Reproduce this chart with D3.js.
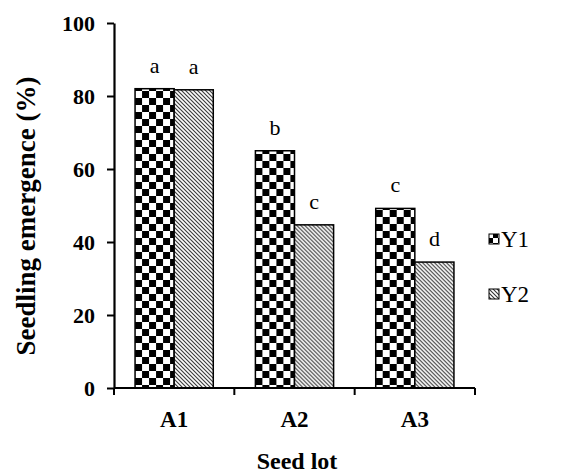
<!DOCTYPE html>
<html>
<head>
<meta charset="utf-8">
<script src="https://cdn.jsdelivr.net/npm/d3@7"></script>
<style>
  body { margin: 0; background: #fff; }
</style>
</head>
<body>
<svg id="chart" width="573" height="475"></svg>
<script>
"use strict";

var lots = ['A1', 'A2', 'A3'];
var years = ['Y1', 'Y2'];
var y1Values = [82.0, 65.0, 49.2];
var y2Values = [81.7, 44.7, 34.5];
var y1Letters = ['a', 'b', 'c'];
var y2Letters = ['a', 'c', 'd'];
var yTicks = [0, 20, 40, 60, 80, 100];

var FONT = "'Times New Roman', 'Liberation Serif', 'DejaVu Serif', serif";

function make_chart(svg) {
  var left = 114, right = 475, top = 23, bottom = 388;

  var defs = svg.append('defs');
  // checkerboard for Y1
  var chk = defs.append('pattern')
    .attr('id', 'checker')
    .attr('patternUnits', 'userSpaceOnUse')
    .attr('width', 14).attr('height', 14)
    .attr('x', 0).attr('y', 0);
  chk.append('rect').attr('width', 14).attr('height', 14).attr('fill', '#fff');
  chk.append('rect').attr('width', 7).attr('height', 7).attr('fill', '#000');
  chk.append('rect').attr('x', 7).attr('y', 7).attr('width', 7).attr('height', 7).attr('fill', '#000');

  var chkSmall = defs.append('pattern')
    .attr('id', 'checker-small')
    .attr('patternUnits', 'userSpaceOnUse')
    .attr('width', 10).attr('height', 10)
    .attr('x', 489).attr('y', 234);
  chkSmall.append('rect').attr('width', 10).attr('height', 10).attr('fill', '#fff');
  chkSmall.append('rect').attr('width', 5).attr('height', 5).attr('fill', '#000');
  chkSmall.append('rect').attr('x', 5).attr('y', 5).attr('width', 5).attr('height', 5).attr('fill', '#000');

  // diagonal hatch for Y2
  var hatch = defs.append('pattern')
    .attr('id', 'hatch')
    .attr('patternUnits', 'userSpaceOnUse')
    .attr('width', 4).attr('height', 4);
  hatch.append('rect').attr('width', 4).attr('height', 4).attr('fill', '#fff');
  hatch.append('path')
    .attr('d', 'M0,0 L4,4 M-1,3 L1,5 M3,-1 L5,1')
    .attr('stroke', '#333')
    .attr('stroke-width', 1.1);

  var x0 = d3.scaleBand().domain(lots).range([left, right]).paddingInner(0.35).paddingOuter(0.175);
  var x1 = d3.scaleBand().domain(years).range([0, x0.bandwidth()]);
  var y = d3.scaleLinear().domain([0, 100]).range([bottom, top]);

  var fills = { Y1: 'url(#checker)', Y2: 'url(#hatch)' };
  var rows = lots.map(function (lot, i) {
    return [
      { lot: lot, year: 'Y1', value: y1Values[i], letter: y1Letters[i] },
      { lot: lot, year: 'Y2', value: y2Values[i], letter: y2Letters[i] }
    ];
  });

  var groups = svg.selectAll('g.lot')
    .data(rows)
    .enter().append('g')
    .attr('class', 'lot')
    .attr('transform', function (d) { return 'translate(' + x0(d[0].lot) + ',0)'; });

  groups.selectAll('rect')
    .data(function (d) { return d; })
    .enter().append('rect')
    .attr('x', function (d) { return x1(d.year); })
    .attr('y', function (d) { return y(d.value); })
    .attr('width', x1.bandwidth())
    .attr('height', function (d) { return y(0) - y(d.value); })
    .attr('fill', function (d) { return fills[d.year]; })
    .attr('stroke', '#000')
    .attr('stroke-width', 1.5);

  groups.selectAll('text.letter')
    .data(function (d) { return d; })
    .enter().append('text')
    .attr('class', 'letter')
    .attr('x', function (d) { return x1(d.year) + x1.bandwidth() / 2; })
    .attr('y', function (d) { return y(d.value) - 16; })
    .attr('text-anchor', 'middle')
    .style('font-family', FONT)
    .attr('font-size', 22)
    .text(function (d) { return d.letter; });

  // axes
  var xScaleTicks = d3.scaleBand().domain(lots).range([left, right]);
  var xaxis = svg.append('g')
    .attr('transform', 'translate(0,' + bottom + ')')
    .call(d3.axisBottom(xScaleTicks).tickSize(0).tickPadding(23));
  xaxis.select('.domain').attr('stroke-width', 2.2).attr('d', 'M' + left + ',0H' + right);
  xaxis.selectAll('text').attr('font-size', 23).attr('font-weight', 'bold')
    .style('font-family', FONT);
  var xEdges = [left].concat(lots.map(function (l) { return xScaleTicks(l) + xScaleTicks.bandwidth(); }));
  xaxis.selectAll('line.edge')
    .data(xEdges)
    .enter().append('line')
    .attr('class', 'edge')
    .attr('x1', function (d) { return d; }).attr('x2', function (d) { return d; })
    .attr('y1', 0).attr('y2', 7)
    .attr('stroke', '#000').attr('stroke-width', 2);

  var yaxis = svg.append('g')
    .attr('transform', 'translate(' + left + ',0)')
    .call(d3.axisLeft(y).tickValues(yTicks).tickSize(7).tickSizeOuter(0).tickPadding(12));
  yaxis.select('.domain').attr('stroke-width', 2.2);
  yaxis.selectAll('.tick line').attr('stroke-width', 2);
  yaxis.selectAll('text').attr('font-size', 22).attr('font-weight', 'bold')
    .style('font-family', FONT);

  svg.append('text')
    .attr('transform', 'translate(35,' + 216 + ') rotate(-90)')
    .attr('text-anchor', 'middle')
    .style('font-family', FONT)
    .attr('font-size', 27)
    .attr('font-weight', 'bold')
    .text('Seedling emergence (%)');

  svg.append('text')
    .attr('x', 297)
    .attr('y', 469)
    .attr('text-anchor', 'middle')
    .style('font-family', FONT)
    .attr('font-size', 24)
    .attr('font-weight', 'bold')
    .text('Seed lot');

  // legend
  var legend = svg.selectAll('g.legend')
    .data(years)
    .enter().append('g')
    .attr('class', 'legend')
    .attr('transform', function (d, i) { return 'translate(489,' + (234 + i * 55) + ')'; });
  legend.append('rect')
    .attr('width', 10).attr('height', 10)
    .attr('fill', function (d) { return d === 'Y1' ? 'url(#checker-small)' : 'url(#hatch)'; })
    .attr('stroke', '#000').attr('stroke-width', 1);
  legend.append('text')
    .attr('x', 12).attr('y', 13)
    .style('font-family', FONT)
    .attr('font-size', 23)
    .text(function (d) { return d; });
}

make_chart(d3.select('#chart'));
</script>
</body>
</html>
